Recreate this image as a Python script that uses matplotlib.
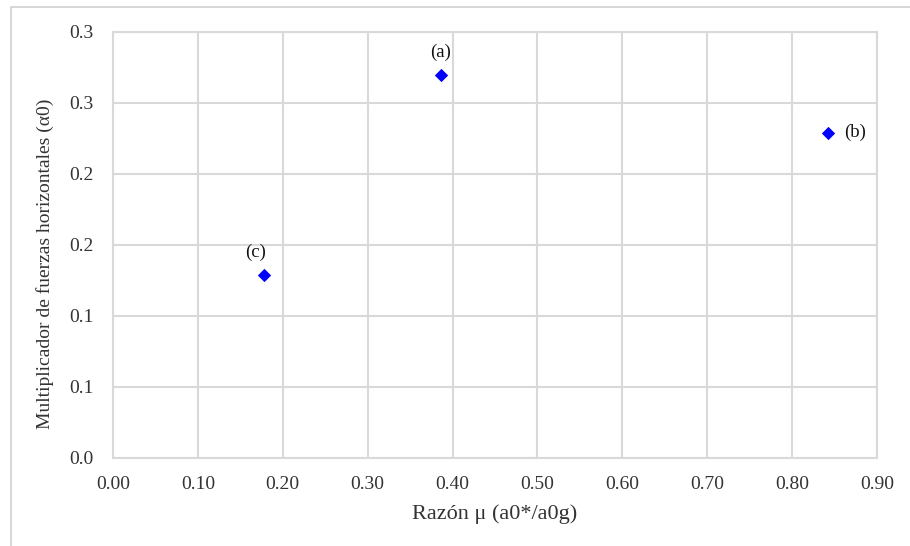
import matplotlib
matplotlib.use("Agg")
import matplotlib.pyplot as plt
from matplotlib.patches import Rectangle

# Data
labels = ["(a)", "(b)", "(c)"]
ratio_mu = [0.386, 0.842, 0.178]
alpha0 = [0.270, 0.229, 0.129]

x_ticks = [0.0, 0.1, 0.2, 0.3, 0.4, 0.5, 0.6, 0.7, 0.8, 0.9]
x_tick_labels = ["0.00", "0.10", "0.20", "0.30", "0.40", "0.50", "0.60", "0.70", "0.80", "0.90"]
y_ticks = [0.0, 0.05, 0.10, 0.15, 0.20, 0.25, 0.30]
y_tick_labels = ["0.0", "0.1", "0.1", "0.2", "0.2", "0.3", "0.3"]

plt.rcParams["font.family"] = ["Liberation Serif", "DejaVu Serif"]

fig = plt.figure(figsize=(9.10, 5.46), dpi=100)
ax = fig.add_axes([0.1242, 0.1612, 0.8395, 0.7802])

grid_color = "#d9d9d9"
text_color = "#333333"

ax.scatter(ratio_mu, alpha0, marker="D", s=46, color="#0000ff", zorder=3, linewidths=0)

offsets = {"(a)": (0, 10, "center", "bottom"),
           "(b)": (12, 0, "left", "center"),
           "(c)": (-6, 10, "center", "bottom")}
for lab, x, y in zip(labels, ratio_mu, alpha0):
    dx, dy, ha, va = offsets[lab]
    ax.annotate(lab, (x, y), xytext=(dx, dy), textcoords="offset points",
                ha=ha, va=va, fontsize=13.5, color="#111111")

ax.set_xlim(0, 0.9)
ax.set_ylim(0, 0.30)
ax.set_xticks(x_ticks)
ax.set_xticklabels(x_tick_labels)
ax.set_yticks(y_ticks)
ax.set_yticklabels(y_tick_labels)
ax.tick_params(length=0, labelsize=14, colors=text_color)
ax.tick_params(axis="x", pad=13)
ax.tick_params(axis="y", pad=14)
ax.grid(True, color=grid_color, linewidth=1.5)
ax.set_axisbelow(True)
for sp in ax.spines.values():
    sp.set_color(grid_color)
    sp.set_linewidth(1.5)

ax.set_xlabel("Razón μ (a0*/a0g)", fontsize=16, color=text_color, labelpad=8)
ax.set_ylabel("Multiplicador de fuerzas horizontales (α0)", fontsize=14,
              color=text_color)
ax.yaxis.set_label_coords(-0.077, 0.455)

# Chart area frame
fig.patches.append(Rectangle((11 / 910, -0.05), 1.2, 1 - 7 / 546 + 0.05,
                             transform=fig.transFigure, fill=False,
                             edgecolor="#d0d0d0", linewidth=1.2))

fig.savefig("out.png", dpi=100)
